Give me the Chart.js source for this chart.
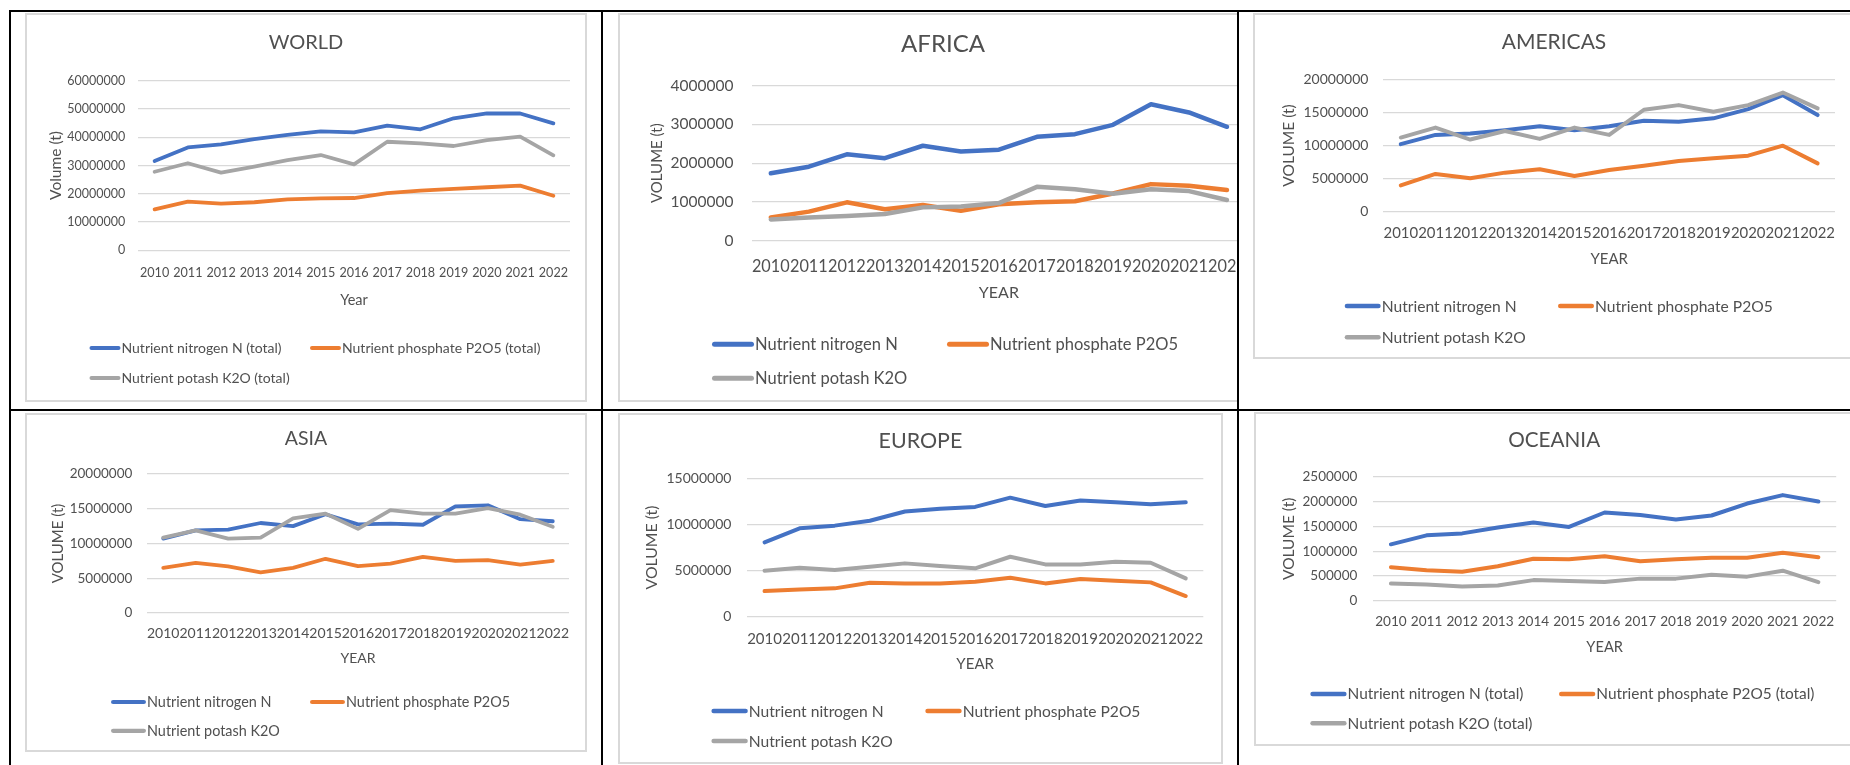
<!DOCTYPE html>
<html>
<head>
<meta charset="utf-8">
<title>Fertilizer nutrient use by region, 2010-2022</title>
<script src="https://cdn.jsdelivr.net/npm/chart.js@4.4.1/dist/chart.umd.min.js"></script>
<style>
  html, body { margin: 0; padding: 0; background: #fff; }
  body { width: 1850px; height: 765px; position: relative; overflow: hidden; font-family: Lato, sans-serif; }
  .rule { position: absolute; background: #000; }
  .cell { position: absolute; overflow: hidden; }
  .cell canvas { position: absolute; }
  .frame { position: absolute; box-sizing: border-box; border: 2px solid #d9d9d9; pointer-events: none; }
</style>
</head>
<body>
<script>
// ---- data (tonnes of nutrient) ----
const years = ['2010','2011','2012','2013','2014','2015','2016','2017','2018','2019','2020','2021','2022'];

const worldN = [31600000,36400000,37500000,39300000,40800000,42100000,41700000,44100000,42800000,46700000,48400000,48400000,44900000];
const worldP = [14500000,17200000,16500000,17000000,18000000,18400000,18500000,20200000,21100000,21700000,22300000,22900000,19300000];
const worldK = [27800000,30800000,27500000,29600000,31900000,33700000,30400000,38400000,37800000,36900000,39000000,40200000,33600000];

const africaN = [1740000,1910000,2230000,2130000,2450000,2300000,2350000,2680000,2750000,2990000,3520000,3310000,2940000];
const africaP = [600000,750000,990000,810000,920000,770000,940000,990000,1020000,1220000,1460000,1420000,1310000];
const africaK = [550000,600000,640000,690000,860000,880000,970000,1390000,1330000,1210000,1330000,1280000,1050000];

const americasN = [10200000,11600000,11800000,12300000,12900000,12300000,12900000,13750000,13600000,14100000,15500000,17600000,14600000];
const americasP = [3980000,5700000,5040000,5900000,6400000,5400000,6300000,6950000,7660000,8060000,8460000,9970000,7300000];
const americasK = [11200000,12700000,10900000,12200000,11000000,12700000,11600000,15400000,16100000,15100000,16100000,18000000,15600000];

const asiaN = [10700000,11900000,12000000,12950000,12500000,14200000,12750000,12850000,12700000,15350000,15500000,13500000,13200000];
const asiaP = [6500000,7200000,6700000,5850000,6500000,7800000,6750000,7100000,8060000,7500000,7600000,6950000,7500000];
const asiaK = [10850000,11900000,10700000,10850000,13600000,14300000,12100000,14800000,14300000,14300000,15100000,14150000,12400000];

const europeN = [8060000,9580000,9870000,10400000,11400000,11700000,11900000,12900000,12000000,12600000,12400000,12200000,12400000];
const europeP = [2780000,2960000,3070000,3690000,3610000,3610000,3790000,4230000,3610000,4080000,3900000,3720000,2240000];
const europeK = [4990000,5310000,5060000,5420000,5780000,5490000,5240000,6500000,5670000,5670000,5960000,5850000,4160000];

const oceaniaN = [1140000,1320000,1360000,1480000,1580000,1490000,1780000,1730000,1640000,1720000,1960000,2130000,2000000];
const oceaniaP = [680000,620000,590000,700000,850000,840000,900000,800000,840000,870000,870000,970000,880000];
const oceaniaK = [350000,330000,290000,310000,420000,400000,380000,450000,450000,530000,490000,610000,380000];

// series names as printed in each legend
const seriesPlain = ['Nutrient nitrogen N', 'Nutrient phosphate P2O5', 'Nutrient potash K2O'];
const seriesTotal = ['Nutrient nitrogen N (total)', 'Nutrient phosphate P2O5 (total)', 'Nutrient potash K2O (total)'];

// y-axis ranges: [max, step]
const worldRange = [60000000, 10000000];
const africaRange = [4000000, 1000000];
const americasRange = [20000000, 5000000];
const asiaRange = [20000000, 5000000];
const europeRange = [15000000, 5000000];
const oceaniaRange = [2500000, 500000];

// ---- styling ----
const FONT = 'Lato';
const INK = '#505050';
const GRID = '#d9d9d9';
const SERIES_COLORS = ['#4472C4', '#ED7D31', '#A5A5A5'];

// ---- page grid (table rules) ----
const rules = [
  [9, 10, 1841, 2],    // top
  [9, 10, 2, 755],     // left
  [601, 10, 2, 755],   // column 1 | 2
  [1237, 10, 2, 755],  // column 2 | 3
  [9, 409, 1841, 2]    // row 1 | 2
];
rules.forEach(([x, y, w, h]) => {
  const d = document.createElement('div');
  d.className = 'rule';
  Object.assign(d.style, { left: x + 'px', top: y + 'px', width: w + 'px', height: h + 'px' });
  document.body.appendChild(d);
});

// ---- panel layout (page coordinates) ----
const panels = [
  { name: 'WORLD', values: [worldN, worldP, worldK], names: seriesTotal, range: worldRange,
    cell: [11, 12, 601, 409], box: [25, 13, 587, 402], plot: [138, 80.7, 570, 250.3],
    title: { x: 306, y: 43, size: 20 }, yTicks: { right: 125.3, size: 12.5 }, xTicks: { y: 273, size: 12.6 },
    yTitle: { text: 'Volume (t)', x: 56, size: 15.5 }, xTitle: { text: 'Year', y: 300, size: 14.5 },
    legend: { size: 14, len: 31, width: 4, slots: [[89.5, 348], [310, 348], [89.5, 378]] }, lineWidth: 3.8 },
  { name: 'AFRICA', values: [africaN, africaP, africaK], names: seriesPlain, range: africaRange,
    cell: [603, 12, 1237, 409], box: [618, 13, 1263, 402], plot: [751.8, 85.7, 1246, 240.7],
    title: { x: 943, y: 44.3, size: 24 }, yTicks: { right: 733.5, size: 15.5 }, xTicks: { y: 266.7, size: 16.3 },
    yTitle: { text: 'VOLUME (t)', x: 657, size: 15 }, xTitle: { text: 'YEAR', y: 293.3, size: 16 },
    legend: { size: 16.5, len: 42, width: 5, slots: [[712, 344.3], [947, 344.3], [712, 378.3]] }, lineWidth: 4.5 },
  { name: 'AMERICAS', values: [americasN, americasP, americasK], names: seriesPlain, range: americasRange,
    cell: [1239, 12, 1850, 409], box: [1253, 13, 1855, 359], plot: [1383.4, 79.3, 1835, 211.7],
    title: { x: 1554, y: 42.3, size: 21 }, yTicks: { right: 1368.4, size: 14 }, xTicks: { y: 233.3, size: 14.9 },
    yTitle: { text: 'VOLUME (t)', x: 1288.5, size: 15.5 }, xTitle: { text: 'YEAR', y: 259.3, size: 15 },
    legend: { size: 15.6, len: 36, width: 4.5, slots: [[1344.7, 306], [1558, 306], [1344.7, 337.3]] }, lineWidth: 4 },
  { name: 'ASIA', values: [asiaN, asiaP, asiaK], names: seriesPlain, range: asiaRange,
    cell: [11, 411, 601, 765], box: [25, 412.7, 587, 751.7], plot: [147, 473.7, 569, 612.7],
    title: { x: 306, y: 438.3, size: 19.5 }, yTicks: { right: 132.3, size: 13.5 }, xTicks: { y: 633.3, size: 14 },
    yTitle: { text: 'VOLUME (t)', x: 58.4, size: 15 }, xTitle: { text: 'YEAR', y: 657.7, size: 14 },
    legend: { size: 14.4, len: 35, width: 4.2, slots: [[111, 701.7], [310, 701.7], [111, 730.5]] }, lineWidth: 3.8 },
  { name: 'EUROPE', values: [europeN, europeP, europeK], names: seriesPlain, range: europeRange,
    cell: [603, 411, 1237, 765], box: [618, 413, 1222.7, 764], plot: [747, 478.3, 1203.3, 616.7],
    title: { x: 920.4, y: 440.7, size: 21.4 }, yTicks: { right: 731.4, size: 14 }, xTicks: { y: 639, size: 15 },
    yTitle: { text: 'VOLUME (t)', x: 652.2, size: 15.8 }, xTitle: { text: 'YEAR', y: 664.3, size: 15 },
    legend: { size: 15.6, len: 36.4, width: 4.5, slots: [[711.4, 711], [925.3, 711], [711.4, 741]] }, lineWidth: 4 },
  { name: 'OCEANIA', values: [oceaniaN, oceaniaP, oceaniaK], names: seriesTotal, range: oceaniaRange,
    cell: [1239, 411, 1850, 765], box: [1254, 412, 1854, 746], plot: [1373.1, 476.7, 1836.2, 601],
    title: { x: 1554.2, y: 440, size: 20.7 }, yTicks: { right: 1357.3, size: 13.5 }, xTicks: { y: 621.7, size: 13.6 },
    yTitle: { text: 'VOLUME (t)', x: 1288.5, size: 15.5 }, xTitle: { text: 'YEAR', y: 647.7, size: 14.6 },
    legend: { size: 15.4, len: 36.3, width: 4.5, slots: [[1310.3, 694], [1559, 694], [1310.3, 723.3]] }, lineWidth: 4 }
];

// legend drawn as a two-column grid under the plot
const gridLegend = {
  id: 'gridLegend',
  afterDraw(chart, args, opts) {
    const ctx = chart.ctx;
    ctx.save();
    ctx.font = opts.size + 'px ' + FONT;
    ctx.textBaseline = 'middle';
    ctx.textAlign = 'left';
    ctx.lineCap = 'round';
    chart.data.datasets.forEach((ds, i) => {
      const [x, y] = opts.slots[i];
      ctx.strokeStyle = ds.borderColor;
      ctx.lineWidth = opts.width;
      ctx.beginPath();
      ctx.moveTo(x + opts.width / 2, y);
      ctx.lineTo(x + opts.len - opts.width / 2, y);
      ctx.stroke();
      ctx.fillStyle = INK;
      ctx.fillText(ds.label, x + opts.len + 1, y + 0.5);
    });
    ctx.restore();
  }
};

function build(p) {
  const [cx0, cy0, cx1, cy1] = p.cell;
  const cell = document.createElement('div');
  cell.className = 'cell';
  Object.assign(cell.style, { left: cx0 + 'px', top: cy0 + 'px', width: (cx1 - cx0) + 'px', height: (cy1 - cy0) + 'px' });
  document.body.appendChild(cell);

  const [bx0, by0, bx1, by1] = p.box;
  const W = Math.round(bx1 - bx0), H = Math.round(by1 - by0);
  const canvas = document.createElement('canvas');
  canvas.width = W; canvas.height = H;
  Object.assign(canvas.style, { left: (bx0 - cx0) + 'px', top: (by0 - cy0) + 'px', width: W + 'px', height: H + 'px' });
  cell.appendChild(canvas);
  const frame = document.createElement('div');
  frame.className = 'frame';
  Object.assign(frame.style, { left: (bx0 - cx0) + 'px', top: (by0 - cy0) + 'px', width: W + 'px', height: H + 'px' });
  cell.appendChild(frame);

  // plot rectangle in canvas coordinates
  const L = p.plot[0] - bx0, T = p.plot[1] - by0, R = p.plot[2] - bx0, B = p.plot[3] - by0;
  const padRight = W - R;
  const padLeft = 2 * (p.title.x - bx0) - W + padRight;   // keeps the title centred where wanted
  const yAxisWidth = L - padLeft;
  const padTop = (p.title.y - by0) - 0.6 * p.title.size;
  const titleGap = T - padTop - 1.2 * p.title.size;
  const xAxisHeight = H - B;

  const legendSlots = p.legend.slots.map(([x, y]) => [x - bx0, y - by0]);

  new Chart(canvas, {
    type: 'line',
    data: {
      labels: years,
      datasets: p.values.map((v, i) => ({
        label: p.names[i],
        data: v,
        borderColor: SERIES_COLORS[i],
        backgroundColor: SERIES_COLORS[i],
        borderWidth: p.lineWidth,
        order: 2 - i
      }))
    },
    plugins: [gridLegend],
    options: {
      responsive: false,
      animation: false,
      devicePixelRatio: 1,
      events: [],
      layout: { padding: { left: padLeft, right: padRight, top: padTop, bottom: 0 } },
      elements: {
        line: { tension: 0, borderCapStyle: 'round', borderJoinStyle: 'round', fill: false },
        point: { radius: 0, hoverRadius: 0 }
      },
      plugins: {
        legend: { display: false },
        tooltip: { enabled: false },
        title: {
          display: true, text: p.name, color: INK,
          font: { family: FONT, size: p.title.size, weight: 'normal' },
          padding: { top: 0, bottom: titleGap }
        },
        gridLegend: { size: p.legend.size, len: p.legend.len, width: p.legend.width, slots: legendSlots }
      },
      scales: {
        x: {
          offset: true,
          grid: { display: false, drawTicks: false },
          border: { display: false },
          ticks: {
            autoSkip: false, maxRotation: 0, minRotation: 0, color: INK,
            font: { family: FONT, size: p.xTicks.size },
            padding: (p.xTicks.y - by0) - B - 0.6 * p.xTicks.size
          },
          title: {
            display: true, text: p.xTitle.text, color: INK,
            font: { family: FONT, size: p.xTitle.size },
            padding: { top: 0, bottom: H - (p.xTitle.y - by0) - 0.6 * p.xTitle.size }
          },
          afterFit: s => { s.height = xAxisHeight; }
        },
        y: {
          min: 0, max: p.range[0],
          grid: { color: GRID, lineWidth: 1.3, drawTicks: false },
          border: { display: false },
          ticks: {
            stepSize: p.range[1], color: INK,
            font: { family: FONT, size: p.yTicks.size },
            padding: p.plot[0] - p.yTicks.right,
            callback: v => String(v)
          },
          title: {
            display: true, text: p.yTitle.text, color: INK,
            font: { family: FONT, size: p.yTitle.size },
            padding: { top: (p.yTitle.x - bx0) - padLeft - 0.6 * p.yTitle.size, bottom: 0 }
          },
          afterFit: s => { s.width = yAxisWidth; }
        }
      }
    }
  });
}

const start = () => panels.forEach(build);
if (document.fonts && document.fonts.load) {
  document.fonts.load('16px ' + FONT).then(start, start);
} else {
  start();
}
</script>
</body>
</html>
